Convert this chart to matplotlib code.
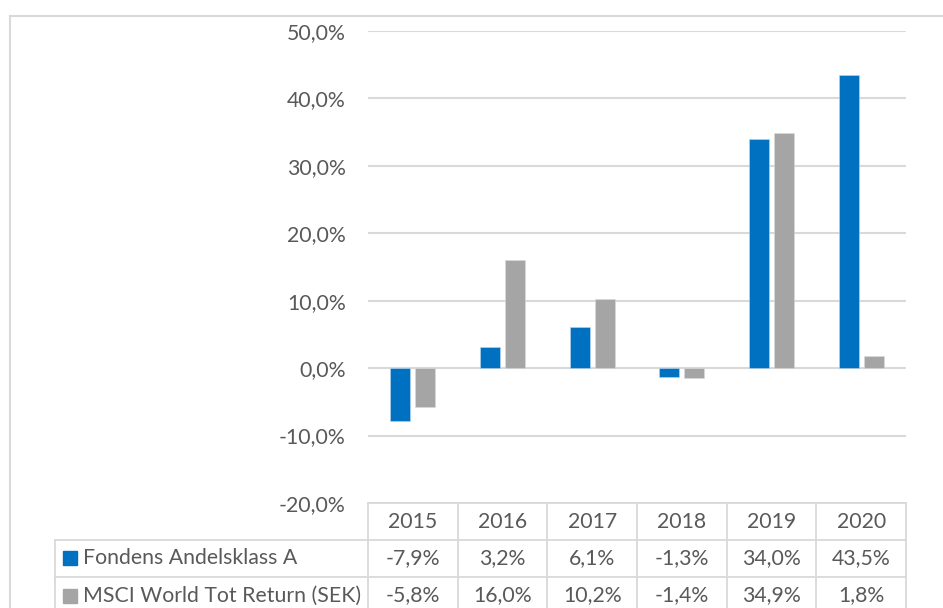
import numpy as np
import matplotlib
matplotlib.use("Agg")
import matplotlib.pyplot as plt
from matplotlib.lines import Line2D
from matplotlib.patches import Rectangle
import matplotlib.transforms as mtransforms

# Data
years = ['2015', '2016', '2017', '2018', '2019', '2020']
fund = [-7.9, 3.2, 6.1, -1.3, 34.0, 43.5]
msci = [-5.8, 16.0, 10.2, -1.4, 34.9, 1.8]
series_names = ['Fondens Andelsklass A', 'MSCI World Tot Return (SEK)']
yticks = [-20, -10, 0, 10, 20, 30, 40, 50]

blue = '#0070C0'
grey = '#A5A5A5'
txt = '#595959'
grid = '#D9D9D9'
fs = 15.3

plt.rcParams['font.family'] = ['Lato', 'DejaVu Sans']
W, H = 943, 608
fig = plt.figure(figsize=(W / 100, H / 100), dpi=100)

# plot area in pixels: x 368..906, y 31..503
ax = fig.add_axes([368 / W, 1 - 503 / H, 538 / W, 472 / H])

x = np.arange(len(years))
bw = 0.225
off = 0.14
ax.bar(x - off, fund, bw, color=blue, edgecolor='#BDD7EE', linewidth=0.4, zorder=3)
ax.bar(x + off, msci, bw, color=grey, edgecolor='#DBDBDB', linewidth=0.4, zorder=3)

ax.set_xlim(-0.5, len(years) - 0.5)
ax.set_ylim(-20, 50)
ax.set_yticks(yticks)
ax.set_yticklabels([f'{v:.1f}%'.replace('.', ',') for v in yticks])
ax.set_xticks([])
ax.tick_params(axis='y', length=0, pad=16, labelsize=fs, labelcolor=txt)
for s in ax.spines.values():
    s.set_visible(False)
for v in yticks:
    ax.axhline(v, color=grid, linewidth=1.5, zorder=1)

# data table below the plot, drawn by hand
trans = mtransforms.blended_transform_factory(ax.transData, ax.transAxes)
row_h = 37 / 472
lab_l = (55 - 368) / 538
lw = 1.3
rows = [fund, msci]
n = len(years)

# horizontal lines
ax.plot([0, 1], [0, 0], transform=ax.transAxes, color=grid, lw=lw, clip_on=False)
for k in (1, 2, 3):
    ax.plot([lab_l, 1], [-k * row_h] * 2, transform=ax.transAxes, color=grid,
            lw=lw, clip_on=False)
# vertical lines
for k in range(n + 1):
    ax.plot([k - 0.5] * 2, [0, -3 * row_h], transform=trans, color=grid,
            lw=lw, clip_on=False)
ax.plot([lab_l] * 2, [-row_h, -3 * row_h], transform=ax.transAxes, color=grid,
        lw=lw, clip_on=False)

for i, yr in enumerate(years):
    ax.text(i, -0.5 * row_h, yr, transform=trans, ha='center', va='center',
            fontsize=fs, color=txt)
for r, vals in enumerate(rows):
    yc = -(r + 1.5) * row_h
    for i, v in enumerate(vals):
        ax.text(i, yc, f'{v:.1f}%'.replace('.', ','), transform=trans,
                ha='center', va='center', fontsize=fs, color=txt)
    ax.text((83 - 368) / 538, yc, series_names[r], transform=ax.transAxes,
            ha='left', va='center', fontsize=fs, color=txt)

# legend keys inside row-label cells
for i, col in enumerate([blue, grey]):
    y0 = 1 - (565 + i * 38) / H
    fig.add_artist(Rectangle((63 / W, y0), 14 / W, 14 / H,
                             transform=fig.transFigure, color=col))

# outer chart border (cropped at right and bottom)
fig.add_artist(Line2D([9.5 / W, 1], [1 - 15.5 / H] * 2, color=grid, linewidth=1.5,
                      transform=fig.transFigure))
fig.add_artist(Line2D([9.5 / W] * 2, [0, 1 - 15.5 / H], color=grid, linewidth=1.5,
                      transform=fig.transFigure))

fig.savefig('out.png', dpi=100)
